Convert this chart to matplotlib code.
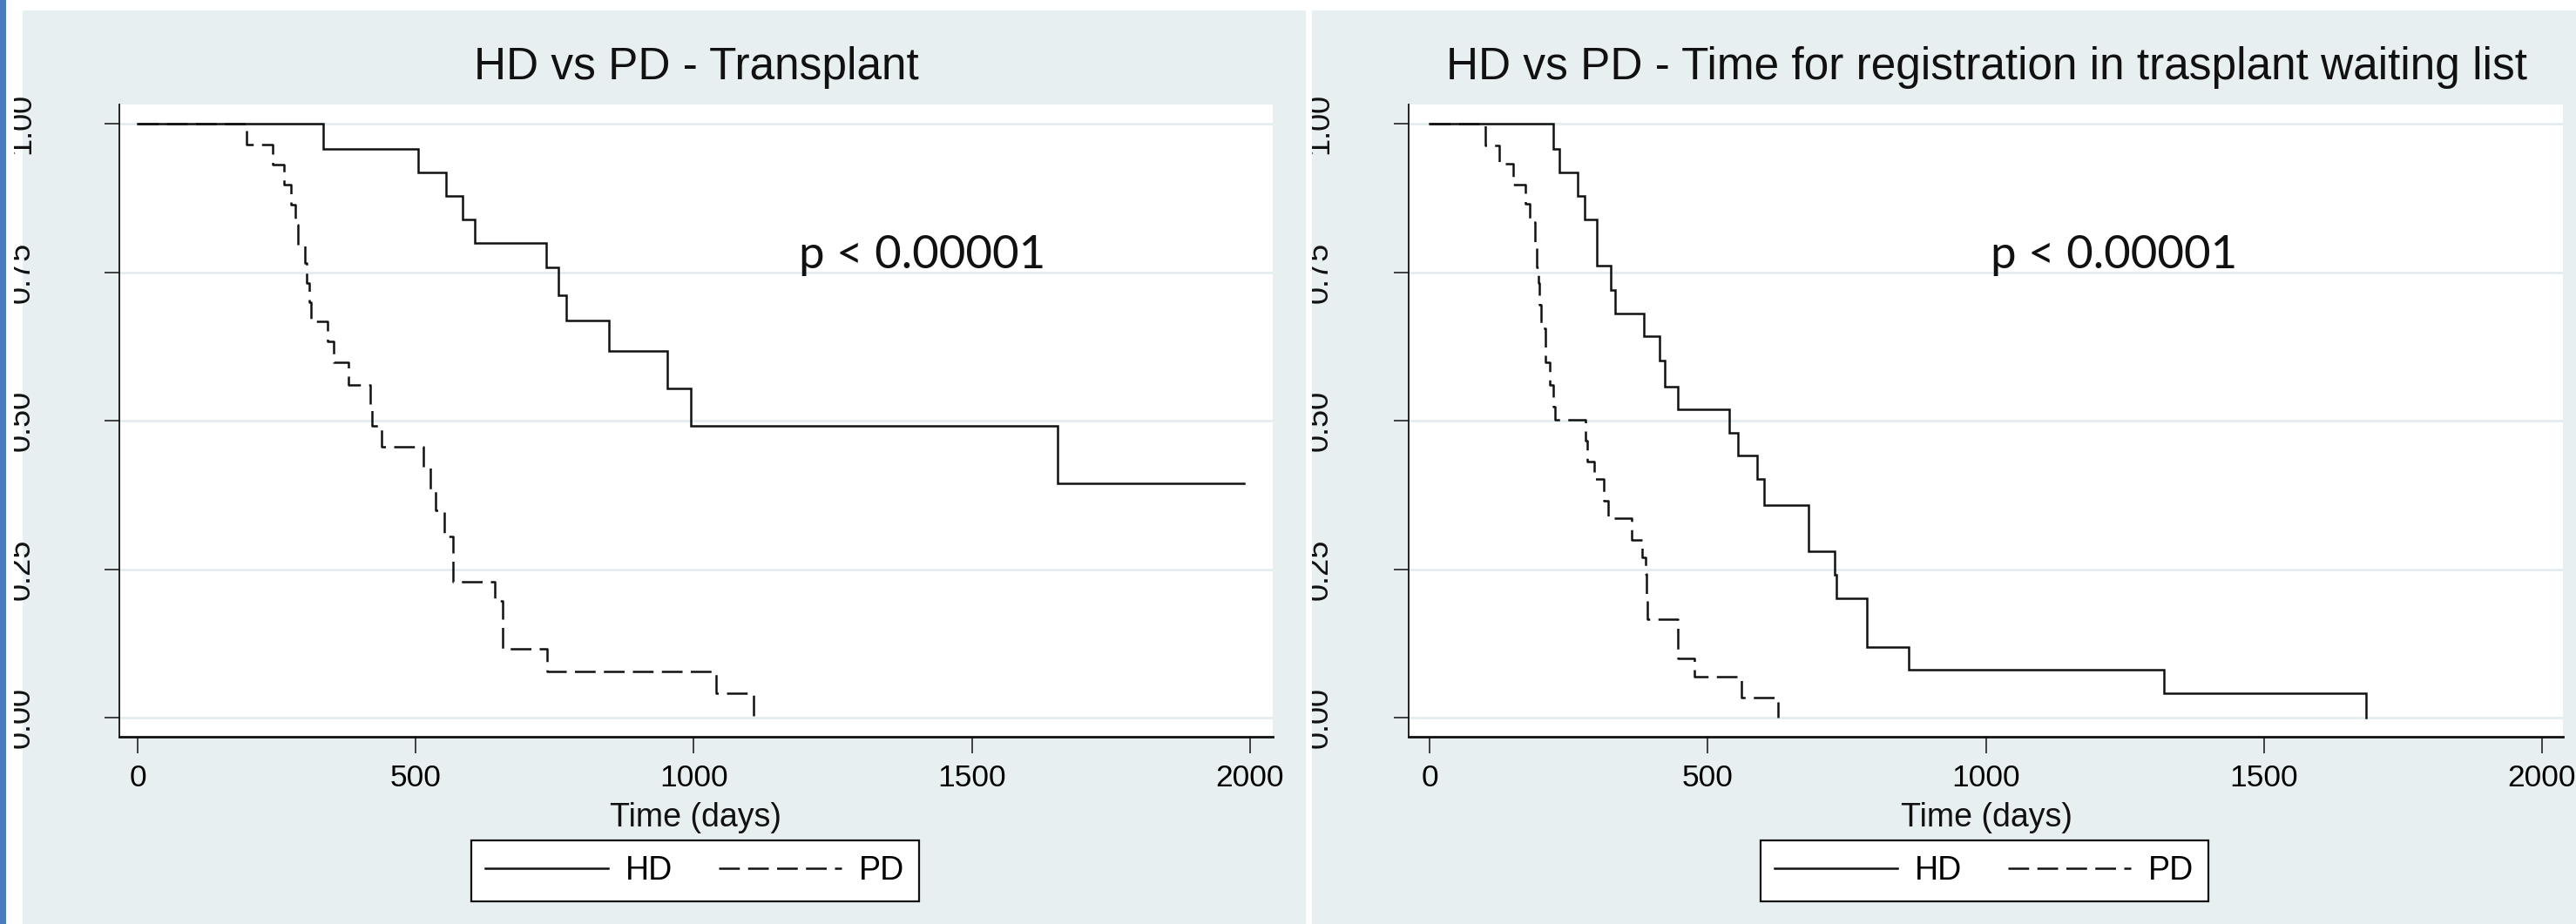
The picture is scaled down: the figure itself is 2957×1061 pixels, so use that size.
import matplotlib
matplotlib.use("Agg")
import matplotlib.pyplot as plt
from matplotlib.patches import Rectangle
from matplotlib.lines import Line2D
from matplotlib.transforms import blended_transform_factory, IdentityTransform

plt.rcParams['font.family'] = ['Liberation Sans', 'DejaVu Sans']

# ---------------- data ----------------
titles = ["HD vs PD - Transplant",
          "HD vs PD - Time for registration in trasplant waiting list"]
p_text = "p < 0.00001"
x_ticks = [0, 500, 1000, 1500, 2000]
y_ticks = [0.0, 0.25, 0.50, 0.75, 1.0]
y_tick_labels = ["0.00", "0.25", "0.50", "0.75", "1.00"]
x_label = "Time (days)"
series_labels = ["HD", "PD"]

# Panel 1: Transplant
hd_tx_days = [0, 333, 505, 555, 584, 606, 735, 756, 770, 848, 953, 994, 1654, 1990]
hd_tx_surv = [1.0, 0.958, 0.918, 0.878, 0.839, 0.800, 0.758, 0.711, 0.669, 0.617,
              0.555, 0.492, 0.394, 0.394]
pd_tx_days = [0, 196, 242, 263, 275, 284, 288, 300, 304, 309, 312, 342, 353, 379,
              418, 422, 438, 513, 527, 536, 551, 567, 642, 656, 736, 1040, 1107]
pd_tx_surv = [1.0, 0.965, 0.932, 0.898, 0.864, 0.830, 0.797, 0.766, 0.732, 0.700,
              0.668, 0.633, 0.598, 0.561, 0.525, 0.492, 0.456, 0.422, 0.385, 0.349,
              0.305, 0.229, 0.197, 0.116, 0.077, 0.041, 0.0]

# Panel 2: Registration in transplant waiting list
hd_wl_days = [0, 222, 233, 267, 279, 300, 326, 334, 385, 413, 423, 446, 539, 555,
              589, 602, 682, 728, 731, 786, 861, 1320, 1683]
hd_wl_surv = [1.0, 0.958, 0.918, 0.878, 0.839, 0.762, 0.720, 0.681, 0.642, 0.601,
              0.558, 0.519, 0.480, 0.441, 0.402, 0.358, 0.280, 0.240, 0.201, 0.119,
              0.080, 0.041, 0.0]
pd_wl_days = [0, 101, 125, 150, 172, 180, 189, 192, 195, 197, 200, 208, 216, 223,
              226, 280, 283, 296, 314, 321, 364, 382, 388, 390, 392, 447, 476, 560, 627]
pd_wl_surv = [1.0, 0.964, 0.933, 0.898, 0.866, 0.834, 0.797, 0.759, 0.732, 0.695,
              0.656, 0.598, 0.561, 0.524, 0.501, 0.466, 0.431, 0.402, 0.365, 0.336,
              0.299, 0.270, 0.242, 0.201, 0.166, 0.100, 0.069, 0.034, 0.0]

# ---------------- figure ----------------
W, H = 2957, 1061
DPI = 100
fig = plt.figure(figsize=(W / DPI, H / DPI), dpi=DPI)
fig.patch.set_facecolor("white")

BG = "#E8EFF1"
GRID = "#E4ECEF"
BLUE = "#4A7CC0"


def rect(x0, y0, x1, y1, color, z):
    r = Rectangle((x0 / W, 1 - y1 / H), (x1 - x0) / W, (y1 - y0) / H,
                  transform=fig.transFigure, facecolor=color, edgecolor="none",
                  zorder=z)
    fig.add_artist(r)


# panel backgrounds
rect(26, 12, 1497, H, BG, -5)
rect(1503, 12, W, H, BG, -5)

LW = 1.8
DASH = (0, (9.5, 3.8))

panels = [
    dict(x0=137, x1=1461, xlim=(-33, 2041), title_cx=799, p_x=917,
         lab_x=34, leg=(539, 1057),
         hd=(hd_tx_days, hd_tx_surv), pd=(pd_tx_days, pd_tx_surv)),
    dict(x0=1617, x1=2942, xlim=(-37.6, 2037.6), title_cx=2280, p_x=2285,
         lab_x=1524, leg=(2019, 2537),
         hd=(hd_wl_days, hd_wl_surv), pd=(pd_wl_days, pd_wl_surv)),
]

TOP, BOT = 120, 846

for i, p in enumerate(panels):
    ax = fig.add_axes([p["x0"] / W, 1 - BOT / H, (p["x1"] - p["x0"]) / W, (BOT - TOP) / H])
    ax.set_facecolor("white")
    ax.set_xlim(*p["xlim"])
    ax.set_ylim(-0.0323, 1.0327)

    ax.step(p["hd"][0], p["hd"][1], where="post", color="#111111", lw=LW,
            solid_joinstyle="miter", zorder=3)
    ax.step(p["pd"][0], p["pd"][1], where="post", color="#111111", lw=LW,
            linestyle=DASH, zorder=3)

    for s in ("top", "right"):
        ax.spines[s].set_visible(False)
    ax.spines["left"].set_linewidth(1.3)
    ax.spines["bottom"].set_linewidth(2.0)
    ax.spines["left"].set_color("#111111")
    ax.spines["bottom"].set_color("#111111")

    ax.set_yticks(y_ticks)
    ax.set_yticklabels([])
    ax.set_xticks(x_ticks)
    ax.set_xticklabels([str(v) for v in x_ticks], fontsize=25.5)
    ax.tick_params(axis="y", length=12, width=1.1, color="#111111")
    ax.tick_params(axis="x", length=14, width=1.1, color="#111111", pad=8.5)
    ax.yaxis.grid(True, color=GRID, lw=2.0)
    ax.set_axisbelow(True)

    # rotated y tick labels (partially cut on the left as in the reference)
    tr = blended_transform_factory(IdentityTransform(), ax.transData)
    for v, lab in zip(y_ticks, y_tick_labels):
        fig.text(p["lab_x"], v, lab, transform=tr, rotation=90,
                 rotation_mode="anchor", ha="center", va="baseline",
                 fontsize=26, color="#111111", zorder=4)

    # title
    fig.text(p["title_cx"] / W, 1 - 91 / H, titles[i], ha="center", va="baseline",
             fontsize=37, color="#111111")
    # p-value
    fig.text(p["p_x"] / W, 1 - 308 / H, p_text, ha="left", va="baseline",
             fontsize=38, color="#111111", family=["Lato", "DejaVu Sans"])
    # x label
    fig.text(p["title_cx"] / W, 1 - 939 / H, x_label, ha="center", va="center",
             fontsize=27, color="#111111")

    # legend
    handles = [Line2D([], [], color="#111111", lw=LW),
               Line2D([], [], color="#111111", lw=LW, linestyle=DASH)]
    cx = (p["leg"][0] + p["leg"][1]) / 2
    leg = fig.legend(handles, series_labels, loc="center",
                     bbox_to_anchor=(cx / W, 1 - 1000 / H), ncol=2,
                     frameon=True, fancybox=False, edgecolor="#111111",
                     framealpha=1, fontsize=27, handlelength=3.76,
                     handletextpad=0.53, columnspacing=1.41, borderpad=0.45)
    leg.get_frame().set_linewidth(1.6)

# cover the left part of the rotated labels (they are cut in the reference)
rect(0, 0, 16, H, "white", 10)
rect(0, 0, 7, H, BLUE, 11)
rect(1478, 12, 1499, H, BG, 10)
rect(1499, 0, 1506, H, "white", 10)

fig.savefig("out.png", dpi=DPI)
